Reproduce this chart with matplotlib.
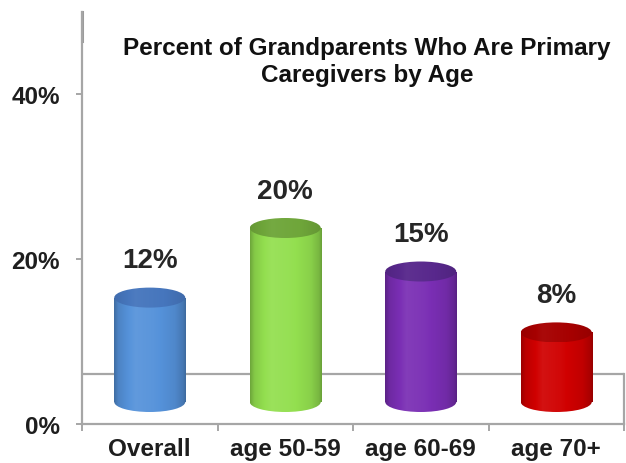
import numpy as np
import matplotlib
matplotlib.use("Agg")
import matplotlib.pyplot as plt
from matplotlib.patches import Ellipse, Rectangle
from matplotlib.colors import to_rgb

# Chart data
categories = ["Overall", "age 50-59", "age 60-69", "age 70+"]
values = [12, 20, 15, 8]
value_labels = ["12%", "20%", "15%", "8%"]
y_ticks = [0, 20, 40]
y_tick_labels = ["0%", "20%", "40%"]
title = "Percent of Grandparents Who Are Primary\nCaregivers by Age"

# Cylinder colours: side and cap
body_colors = ["#5592da", "#93df4f", "#7a2eb4", "#d00000"]
cap_colors = ["#4676bd", "#6fa63a", "#58288c", "#a60000"]

plt.rcParams["font.family"] = ["Liberation Sans", "DejaVu Sans"]
plt.rcParams["font.weight"] = "bold"

W, H = 626, 464
fig = plt.figure(figsize=(W / 100, H / 100), dpi=100)


def px_rect(left, top, right, bottom):
    return [left / W, 1 - bottom / H, (right - left) / W, (bottom - top) / H]


axis_gray = "#a6a6a6"
text_color = "#1e1e1e"

# Main value axis with category boundaries
ax = fig.add_axes(px_rect(82, 13, 624, 425))
ax.set_xlim(-0.5, 3.5)
ax.set_ylim(0, 50)
for s in ("top", "right"):
    ax.spines[s].set_visible(False)
for s in ("left", "bottom"):
    ax.spines[s].set_color(axis_gray)
    ax.spines[s].set_linewidth(1.6)
ax.set_yticks(y_ticks)
ax.set_yticklabels(y_tick_labels, fontsize=17.5, fontweight="bold", color=text_color)
ax.tick_params(axis="y", direction="out", length=4, width=1.4, color=axis_gray, pad=12)
ax.set_xticks(range(len(categories)))
ax.set_xticklabels(categories, fontsize=17.5, fontweight="bold", color=text_color)
ax.tick_params(axis="x", which="major", length=0, pad=9.5)
ax.set_xticks(np.arange(-0.5, len(categories), 1.0), minor=True)
ax.tick_params(axis="x", which="minor", direction="out", length=5, width=1.4, color=axis_gray)

# Back edge of the 3-D floor
floor = 6.07
ax.plot([-0.5, 3.5], [floor, floor], color=axis_gray, lw=1.6, solid_capstyle="butt", zorder=1)
ax.plot([3.5, 3.5], [0, floor], color=axis_gray, lw=1.6, clip_on=False, zorder=1)
ax.plot([-0.5, -0.5], [46.5, 50], color="#9a9a9a", lw=2.2, clip_on=False, zorder=1)

# Cylinder axes (the floor sits slightly above the value axis)
scale = 8.7  # pixels per percent
base_px = 403
y_lo, y_hi = -3, 45
bx = fig.add_axes(px_rect(82, base_px - y_hi * scale, 624, base_px - y_lo * scale))
bx.set_xlim(-0.5, 3.5)
bx.set_ylim(y_lo, y_hi)
bx.set_autoscale_on(False)
bx.axis("off")
bx.patch.set_alpha(0)

bar_w = 0.524
cap_h = 20 / scale


def shade(rgb, f):
    rgb = np.array(rgb)
    if f >= 1:
        return rgb + (1 - rgb) * (f - 1)
    return rgb * f


def gradient(color, stops):
    base = to_rgb(color)
    xs = np.linspace(0, 1, 256)
    pos = [p for p, _ in stops]
    facs = [f for _, f in stops]
    out = np.zeros((1, 256, 3))
    for i, x in enumerate(xs):
        f = np.interp(x, pos, facs)
        out[0, i] = np.clip(shade(base, f), 0, 1)
    return out


side_stops = [(0, 0.74), (0.06, 0.9), (0.3, 1.07), (0.55, 1.03), (0.85, 0.93), (0.96, 0.82), (1, 0.72)]
cap_stops = [(0, 0.92), (0.3, 1.04), (0.7, 1.0), (1, 0.9)]

for i, v in enumerate(values):
    x0 = i - bar_w / 2
    img = gradient(body_colors[i], side_stops)
    ext = [x0, x0 + bar_w, -cap_h / 2, v]
    rect = Rectangle((x0, 0), bar_w, v, facecolor="none", edgecolor="none")
    bottom = Ellipse((i, 0), bar_w, cap_h, facecolor="none", edgecolor="none")
    bx.add_patch(rect)
    bx.add_patch(bottom)
    for clip in (rect, bottom):
        im = bx.imshow(img, extent=ext, aspect="auto", interpolation="bilinear", zorder=2)
        im.set_clip_path(clip)
    cap = Ellipse((i, v), bar_w, cap_h, facecolor="none", edgecolor="none")
    bx.add_patch(cap)
    cim = bx.imshow(gradient(cap_colors[i], cap_stops),
                    extent=[x0, x0 + bar_w, v - cap_h / 2, v + cap_h / 2],
                    aspect="auto", interpolation="bilinear", zorder=3)
    cim.set_clip_path(cap)
    bx.text(i, v + 4.3, value_labels[i], ha="center", va="center",
            fontsize=20, fontweight="bold", color="#262626", zorder=4)

fig.text(367 / W, 1 - 62 / H, title, ha="center", va="center",
         fontsize=17.5, fontweight="bold", color="#111111", linespacing=1.22)

fig.savefig("out.png", dpi=100)
